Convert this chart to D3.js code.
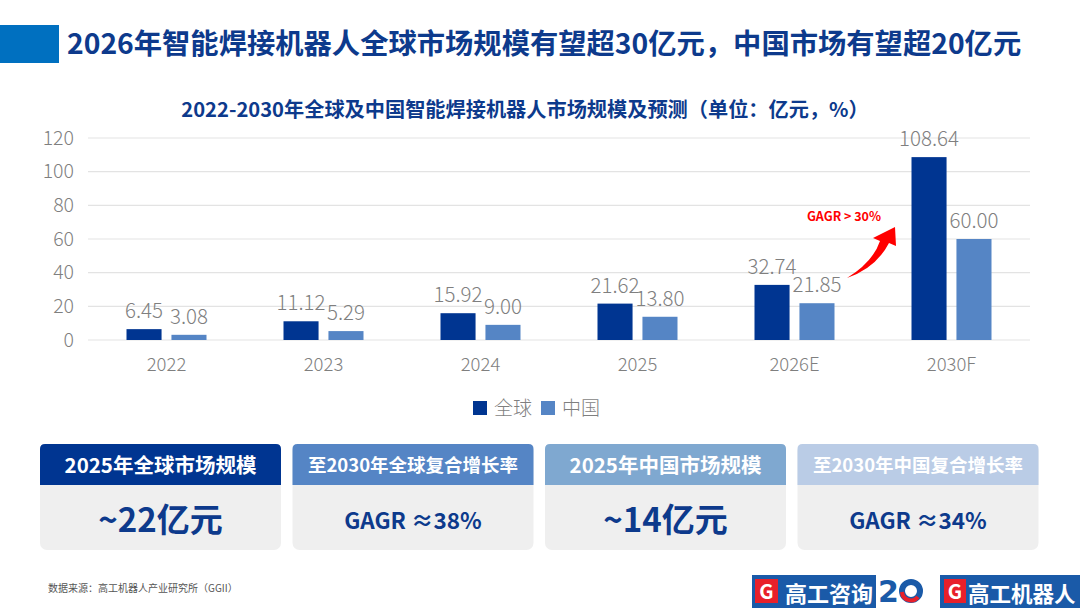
<!DOCTYPE html>
<html>
<head>
<meta charset="utf-8">
<script src="https://cdn.jsdelivr.net/npm/d3@7"></script>
<style>
  body { margin: 0; background: #fff; }
  svg { display: block; font-family: "Noto Sans CJK SC", "Noto Sans", sans-serif; }
</style>
</head>
<body>
<div id="chart"></div>
<script>
// chart data
var years = ["2022", "2023", "2024", "2025", "2026E", "2030F"];
var globalVals = [6.45, 11.12, 15.92, 21.62, 32.74, 108.64];
var chinaVals = [3.08, 5.29, 9.00, 13.80, 21.85, 60.00];
var seriesNames = ["全球", "中国"];
var yTicks = [0, 20, 40, 60, 80, 100, 120];

var cardTitles = ["2025年全球市场规模", "至2030年全球复合增长率", "2025年中国市场规模", "至2030年中国复合增长率"];
var cardValues = ["~22亿元", "GAGR ≈38%", "~14亿元", "GAGR ≈34%"];

var mainTitle = "2026年智能焊接机器人全球市场规模有望超30亿元，中国市场有望超20亿元";
var subTitle = "2022-2030年全球及中国智能焊接机器人市场规模及预测（单位：亿元，%）";
var sourceText = "数据来源：高工机器人产业研究所（GGII）";

var W = 1080, H = 608;
var navy = "#003591", lightBlue = "#5585c5", gray = "#7f7f7f";
var cardColors = [navy, lightBlue, "#7fa8d0", "#bacce6"];

var svg = d3.select("#chart").append("svg")
    .attr("width", W)
    .attr("height", H);

// header
svg.append("rect").attr("x", 0).attr("y", 25).attr("width", 59).attr("height", 38).attr("fill", "#0070c0");
svg.append("text")
    .attr("x", 67).attr("y", 54)
    .attr("font-size", 28.3).attr("font-weight", 700)
    .attr("fill", "#0d3a8c")
    .text(mainTitle);

svg.append("text")
    .attr("x", 525).attr("y", 117)
    .attr("text-anchor", "middle")
    .attr("font-size", 20.2).attr("font-weight", 700)
    .attr("fill", "#0d3a8c")
    .text(subTitle);

// scales
var x = d3.scaleBand().domain(years).range([88, 1030]);
var x1 = d3.scaleBand().domain(seriesNames).range([-40, 40]).paddingInner(0.22);
var y = d3.scaleLinear().domain([0, 120]).range([340, 138]);
var color = d3.scaleOrdinal().domain(seriesNames).range([navy, lightBlue]);

// grid
svg.append("g").selectAll("line")
    .data(yTicks)
    .enter().append("line")
    .attr("x1", 88).attr("x2", 1030)
    .attr("y1", function(d) { return y(d); })
    .attr("y2", function(d) { return y(d); })
    .attr("stroke", "#e3e3e3").attr("stroke-width", 1.2);

// y axis labels
var yAxis = svg.append("g")
    .attr("transform", "translate(88,0)")
    .call(d3.axisLeft(y).tickValues(yTicks).tickSize(0).tickPadding(14));
yAxis.select(".domain").remove();
yAxis.selectAll("text")
    .attr("font-size", 19.5).attr("font-weight", 300)
    .attr("fill", gray)
    .style("font-family", "'Noto Sans CJK SC', sans-serif");

// x axis labels
var xAxis = svg.append("g")
    .attr("transform", "translate(0,340)")
    .call(d3.axisBottom(x).tickSize(0).tickPadding(18));
xAxis.select(".domain").remove();
xAxis.selectAll("text")
    .attr("font-size", 18.5).attr("font-weight", 300)
    .attr("fill", gray)
    .style("font-family", "'Noto Sans CJK SC', sans-serif");

// bars
var rows = years.map(function(yr, i) {
    return { year: yr, vals: [
        { name: seriesNames[0], v: globalVals[i] },
        { name: seriesNames[1], v: chinaVals[i] }
    ] };
});

var groups = svg.append("g").selectAll(".grp")
    .data(rows)
    .enter().append("g")
    .attr("class", "grp")
    .attr("transform", function(d) { return "translate(" + (x(d.year) + x.bandwidth() / 2) + ",0)"; });

groups.selectAll("rect")
    .data(function(d) { return d.vals; })
    .enter().append("rect")
    .attr("x", function(d) { return x1(d.name); })
    .attr("width", x1.bandwidth())
    .attr("y", function(d) { return y(d.v); })
    .attr("height", function(d) { return y(0) - y(d.v); })
    .attr("fill", function(d) { return color(d.name); });

groups.selectAll(".val")
    .data(function(d) { return d.vals; })
    .enter().append("text")
    .attr("class", "val")
    .attr("x", function(d) { return x1(d.name) + x1.bandwidth() / 2; })
    .attr("y", function(d) { return y(d.v) - 11; })
    .attr("text-anchor", "middle")
    .attr("font-size", 20.5).attr("font-weight", 300)
    .attr("fill", gray)
    .text(function(d) { return d.v.toFixed(2); });

// legend
var legend = svg.append("g").selectAll(".legend")
    .data(seriesNames)
    .enter().append("g")
    .attr("class", "legend")
    .attr("transform", function(d, i) { return "translate(" + (473 + i * 68) + ",401)"; });
legend.append("rect").attr("width", 14).attr("height", 14).attr("fill", color);
legend.append("text")
    .attr("x", 21).attr("y", 14)
    .attr("font-size", 19).attr("font-weight", 300)
    .attr("fill", gray)
    .text(function(d) { return d; });

// arrow annotation
svg.append("path")
    .attr("d", "M847,278 Q873,262 880,241 L873,238 L895,227 L896,246 L889,243 Q876,268 847,278 Z")
    .attr("fill", "#ff0000");
svg.append("text")
    .attr("x", 844).attr("y", 221)
    .attr("text-anchor", "middle")
    .attr("font-size", 12.5).attr("font-weight", 700)
    .attr("fill", "#ff0000")
    .text("GAGR > 30%");

// summary cards
var cards = svg.append("g").selectAll(".card")
    .data(cardTitles)
    .enter().append("g")
    .attr("class", "card")
    .attr("transform", function(d, i) { return "translate(" + (40 + i * 252.5) + ",444)"; });

cards.append("rect")
    .attr("width", 241).attr("height", 106).attr("rx", 7)
    .attr("fill", "#efefef");
cards.append("path")
    .attr("d", "M0,41 V5 Q0,0 5,0 H236 Q241,0 241,5 V41 Z")
    .attr("fill", function(d, i) { return cardColors[i]; });
cards.append("text")
    .attr("x", 120.5).attr("y", function(d, i) { return i % 2 === 0 ? 29 : 28; })
    .attr("text-anchor", "middle")
    .attr("font-size", function(d, i) { return i % 2 === 0 ? 20.5 : 18.5; })
    .attr("font-weight", 700)
    .attr("fill", "#fff")
    .text(function(d) { return d; });
cards.append("text")
    .attr("x", 120.5).attr("y", function(d, i) { return i % 2 === 0 ? 88 : 85; })
    .attr("text-anchor", "middle")
    .attr("font-size", function(d, i) { return i % 2 === 0 ? 33 : 22.5; })
    .attr("font-weight", 700)
    .attr("fill", "#0d3a8c")
    .text(function(d, i) { return cardValues[i]; });

// source
svg.append("text")
    .attr("x", 48).attr("y", 592)
    .attr("font-size", 10)
    .attr("fill", "#555")
    .text(sourceText);

// logos
var logo1 = svg.append("g").attr("transform", "translate(752,575)");
logo1.append("rect").attr("width", 124).attr("height", 33).attr("fill", "#1a5aa8");
logo1.append("rect").attr("x", 3).attr("y", 4).attr("width", 23).attr("height", 24).attr("fill", "#e8202a");
logo1.append("text").attr("x", 14.5).attr("y", 24).attr("text-anchor", "middle")
    .attr("font-size", 20).attr("font-weight", 700).attr("fill", "#fff").text("G");
logo1.append("text").attr("x", 33).attr("y", 27)
    .attr("font-size", 22).attr("font-weight", 700).attr("fill", "#fff").text("高工咨询");

// "20" anniversary mark
svg.append("text").attr("x", 878).attr("y", 602)
    .attr("font-size", 30).attr("font-weight", 700)
    .attr("fill", "#1a5aa8").style("font-family", "'DejaVu Sans', sans-serif").text("2");
svg.append("circle").attr("cx", 911).attr("cy", 591).attr("r", 9)
    .attr("fill", "none").attr("stroke", "#1a5aa8").attr("stroke-width", 6);
svg.append("path").attr("d", "M902,592 A9,9 0 0,0 918,597")
    .attr("fill", "none").attr("stroke", "#e8202a").attr("stroke-width", 4);

var logo2 = svg.append("g").attr("transform", "translate(940,575)");
logo2.append("rect").attr("width", 140).attr("height", 33).attr("fill", "#1a5aa8");
logo2.append("rect").attr("x", 4).attr("y", 4).attr("width", 22).attr("height", 24).attr("fill", "#e8202a");
logo2.append("text").attr("x", 15).attr("y", 24).attr("text-anchor", "middle")
    .attr("font-size", 20).attr("font-weight", 700).attr("fill", "#fff").text("G");
logo2.append("text").attr("x", 28).attr("y", 27)
    .attr("font-size", 21.5).attr("font-weight", 700).attr("fill", "#fff").text("高工机器人");
</script>
</body>
</html>
